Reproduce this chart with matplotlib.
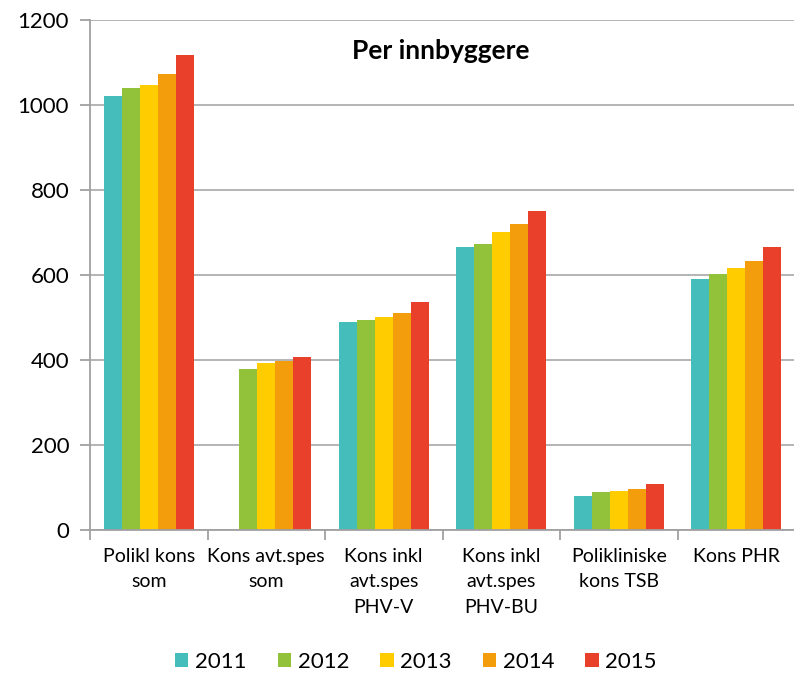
import matplotlib.pyplot as plt
import numpy as np

plt.rcParams['font.family'] = ['Lato', 'DejaVu Sans']

categories = ['Polikl kons\nsom', 'Kons avt.spes\nsom', 'Kons inkl\navt.spes\nPHV-V',
              'Kons inkl\navt.spes\nPHV-BU', 'Polikliniske\nkons TSB', 'Kons PHR']
years = ['2011', '2012', '2013', '2014', '2015']
v2011 = [1021, np.nan, 489, 667, 80, 591]
v2012 = [1040, 378, 494, 674, 89, 603]
v2013 = [1047, 394, 501, 701, 92, 616]
v2014 = [1074, 398, 511, 720, 97, 632]
v2015 = [1117, 407, 536, 750, 108, 667]
colors = ['#45BDBB', '#92C23A', '#FFCC00', '#F39C0C', '#E8402B']

series = [v2011, v2012, v2013, v2014, v2015]

fig = plt.figure(figsize=(7.94, 6.73), dpi=100)
ax = fig.add_axes([90 / 794, 1 - 530 / 673, 705 / 794, 510 / 673])

x = np.arange(len(categories))
w = 0.153
for k, (vals, c, yr) in enumerate(zip(series, colors, years)):
    ax.bar(x + (k - 2) * w, vals, width=w, color=c, label=yr, zorder=2)

ax.set_xlim(-0.5, len(categories) - 0.5)
ax.set_ylim(0, 1200)
ax.set_yticks(np.arange(0, 1201, 200))
ax.tick_params(axis='y', labelsize=16, length=7, color='#a0a0a0', width=1.3, pad=8)
ax.yaxis.grid(True, color='#a8a8a8', linewidth=1.2, zorder=0)
ax.set_axisbelow(True)

# category boundaries get the tick marks, labels sit in between
ax.set_xticks(np.arange(-0.5, len(categories), 1), minor=False)
ax.set_xticklabels([])
ax.tick_params(axis='x', length=7, color='#a0a0a0', width=1.3, direction='out')
ax.set_xticks(x, minor=True)
ax.set_xticklabels(categories, minor=True, fontsize=14, linespacing=1.6, va='top')
ax.tick_params(axis='x', which='minor', length=0, pad=13)

for s in ['top', 'right']:
    ax.spines[s].set_visible(False)
for s in ['left', 'bottom']:
    ax.spines[s].set_color('#a0a0a0')
    ax.spines[s].set_linewidth(1.3)

ax.text(0.497, 0.94, 'Per innbyggere', transform=ax.transAxes, ha='center', va='center',
        fontsize=19, fontweight='bold')

fig.legend(loc='center', bbox_to_anchor=(416 / 794, 1 - 662 / 673), ncol=5, frameon=False,
           fontsize=16, handlelength=0.6, handleheight=0.6, handletextpad=0.3, columnspacing=1.4)

fig.savefig('out.png', dpi=100)
